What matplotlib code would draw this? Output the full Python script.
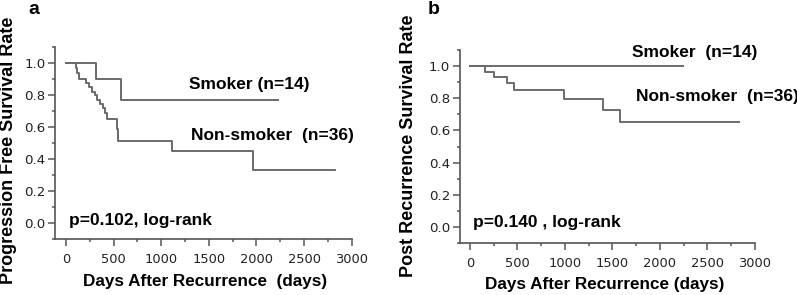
import matplotlib
matplotlib.use("Agg")
import matplotlib.pyplot as plt
from matplotlib.ticker import MultipleLocator

# ---- data ----
a_smoker_t = [0, 320, 575, 2230]
a_smoker_s = [1.0, 0.897, 0.77, 0.77]
a_non_t = [0, 110, 120, 135, 210, 240, 270, 300, 330, 360, 390, 410, 430, 535, 550, 1110, 1960, 2820]
a_non_s = [1.0, 0.97, 0.94, 0.90, 0.875, 0.85, 0.82, 0.80, 0.77, 0.745, 0.72, 0.69, 0.65, 0.59, 0.51, 0.45, 0.33, 0.33]

b_smoker_t = [0, 2240]
b_smoker_s = [1.0, 1.0]
b_non_t = [0, 160, 255, 390, 465, 993, 1403, 1579, 2832]
b_non_s = [1.0, 0.965, 0.93, 0.893, 0.854, 0.798, 0.729, 0.65, 0.65]

x_ticks = [0, 500, 1000, 1500, 2000, 2500, 3000]
y_ticks = [0.0, 0.2, 0.4, 0.6, 0.8, 1.0]
y_tick_labels = ["0.0", "0.2", "0.4", "0.6", "0.8", "1.0"]

BOLD = ["Liberation Sans", "DejaVu Sans"]
TICKF = ["DejaVu Sans"]
LC = "#6a6a6a"
SC = "#555555"
TXT = 12.5

fig = plt.figure(figsize=(7.97, 2.95), dpi=100)
W, H = 797, 295

def make_ax(l, r, b, t):
    return fig.add_axes([l / W, 1 - b / H, (r - l) / W, (b - t) / H])

def style(ax, xmin):
    ax.set_xlim(xmin, 3000)
    ax.set_ylim(-0.1, 1.1)
    for s in ["top", "right"]:
        ax.spines[s].set_visible(False)
    for s in ["left", "bottom"]:
        ax.spines[s].set_color(SC)
        ax.spines[s].set_linewidth(1.2)
    ax.set_xticks(x_ticks)
    ax.set_xticklabels([str(v) for v in x_ticks], family=TICKF, fontsize=9.4, color="#222222")
    ax.set_yticks(y_ticks)
    ax.set_yticklabels(y_tick_labels, family=TICKF, fontsize=9.6, color="#222222")
    ax.xaxis.set_minor_locator(MultipleLocator(250))
    ax.yaxis.set_minor_locator(MultipleLocator(0.1))
    ax.tick_params(which="major", length=5, width=1.1, color=SC, direction="out")
    ax.tick_params(axis="x", which="major", pad=5)
    ax.tick_params(axis="y", which="major", pad=2)
    ax.tick_params(which="minor", length=2.5, width=1.1, color=SC, direction="out")

# panel a
axa = make_ax(55.3, 351.7, 239, 47)
style(axa, -112)
axa.step(a_smoker_t, a_smoker_s, where="post", color=LC, lw=1.4)
axa.step(a_non_t, a_non_s, where="post", color=LC, lw=1.4)
axa.text(1292, 0.865, "Smoker (n=14)", family=BOLD, fontweight="bold", fontsize=TXT, va="center", ha="left")
axa.text(1310, 0.548, "Non-smoker  (n=36)", family=BOLD, fontweight="bold", fontsize=TXT, va="center", ha="left")
axa.text(32, 0.014, "p=0.102, log-rank", family=BOLD, fontweight="bold", fontsize=TXT, va="center", ha="left")
fig.text(205 / W, 1 - 281.7 / H, "Days After Recurrence  (days)", family=BOLD, fontweight="bold",
         fontsize=12.3, ha="center", va="center")
fig.text(8.5 / W, 1 - 150 / H, "Progression Free Survival Rate", family=BOLD, fontweight="bold",
         fontsize=13, ha="center", va="center", rotation=90)
fig.text(34 / W, 1 - 9 / H, "a", family=BOLD, fontweight="bold", fontsize=14, ha="center", va="center")

# panel b
axb = make_ax(460, 755, 243, 50)
style(axb, -105)
axb.step(b_smoker_t, b_smoker_s, where="post", color=LC, lw=1.4)
axb.step(b_non_t, b_non_s, where="post", color=LC, lw=1.4)
axb.text(1702, 1.084, "Smoker  (n=14)", family=BOLD, fontweight="bold", fontsize=TXT, va="center", ha="left")
axb.text(1744, 0.8125, "Non-smoker  (n=36)", family=BOLD, fontweight="bold", fontsize=TXT, va="center", ha="left",
         clip_on=False)
axb.text(28, 0.0275, "p=0.140 , log-rank", family=BOLD, fontweight="bold", fontsize=TXT, va="center", ha="left")
fig.text(605 / W, 1 - 285 / H, "Days After Recurrence (days)", family=BOLD, fontweight="bold",
         fontsize=12.3, ha="center", va="center")
fig.text(408.5 / W, 1 - 146 / H, "Post Recurrence Survival Rate", family=BOLD, fontweight="bold",
         fontsize=13, ha="center", va="center", rotation=90)
fig.text(434 / W, 1 - 9 / H, "b", family=BOLD, fontweight="bold", fontsize=14, ha="center", va="center")

fig.savefig("out.png", dpi=100)
